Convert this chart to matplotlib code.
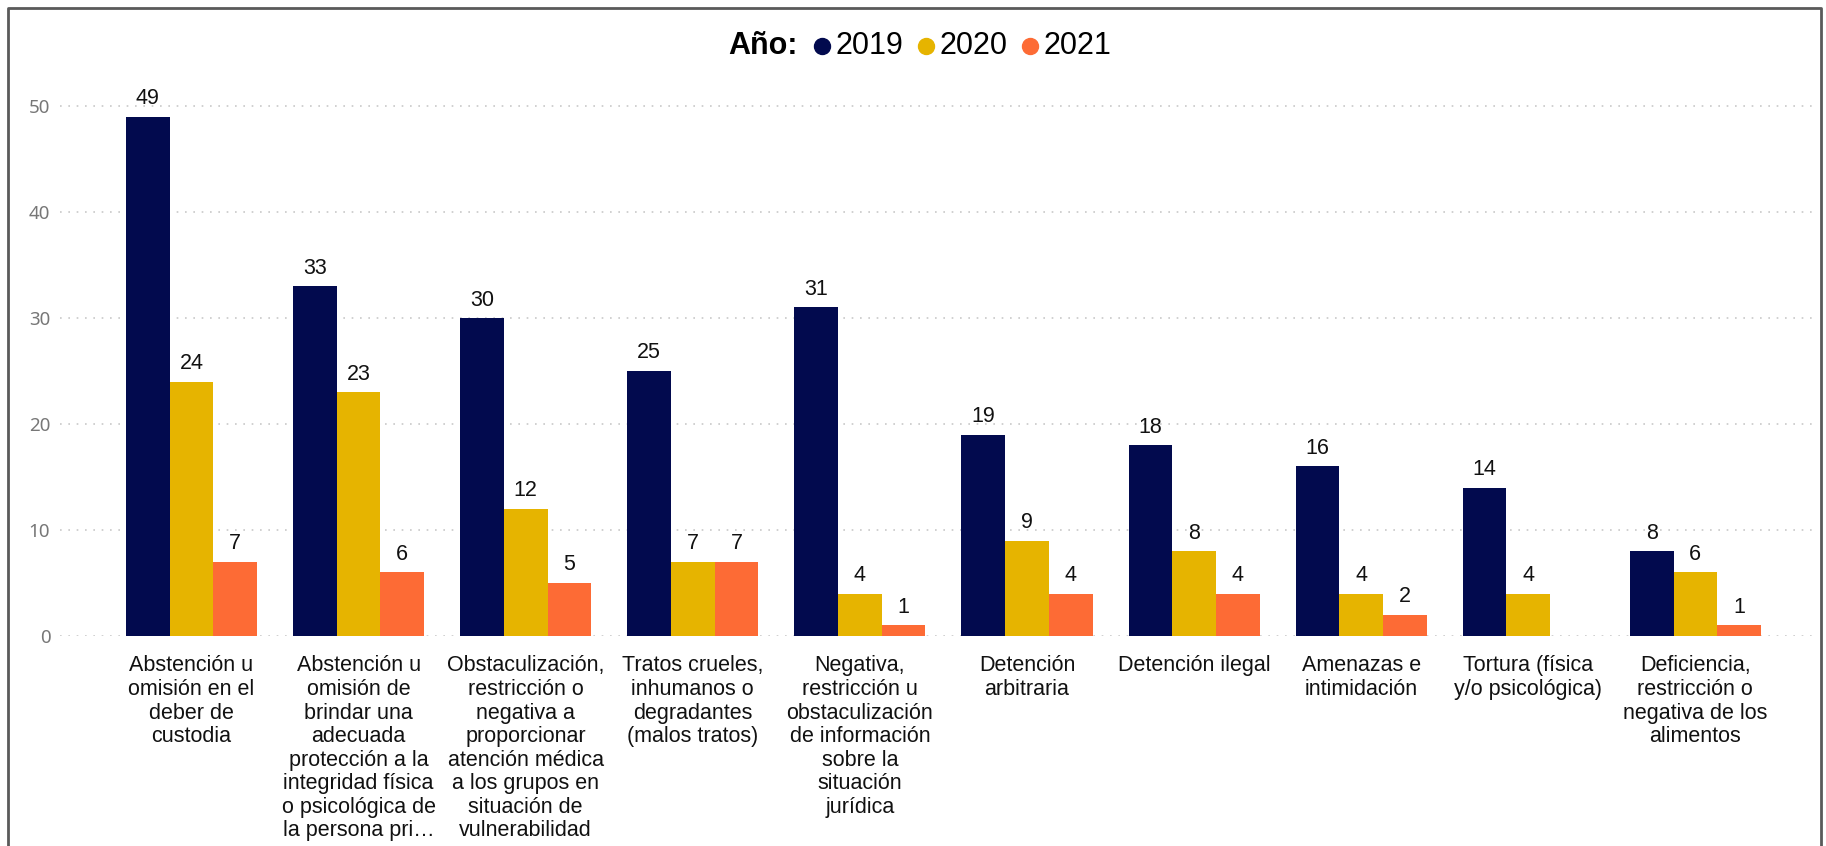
import numpy as np
import matplotlib.pyplot as plt
from matplotlib.lines import Line2D

plt.rcParams['font.family'] = ['Liberation Sans', 'DejaVu Sans']

categorias = [
    "Abstención u\nomisión en el\ndeber de\ncustodia",
    "Abstención u\nomisión de\nbrindar una\nadecuada\nprotección a la\nintegridad física\no psicológica de\nla persona pri…",
    "Obstaculización,\nrestricción o\nnegativa a\nproporcionar\natención médica\na los grupos en\nsituación de\nvulnerabilidad",
    "Tratos crueles,\ninhumanos o\ndegradantes\n(malos tratos)",
    "Negativa,\nrestricción u\nobstaculización\nde información\nsobre la\nsituación\njurídica",
    "Detención\narbitraria",
    "Detención ilegal",
    "Amenazas e\nintimidación",
    "Tortura (física\ny/o psicológica)",
    "Deficiencia,\nrestricción o\nnegativa de los\nalimentos",
]
anios = ["2019", "2020", "2021"]
v2019 = [49, 33, 30, 25, 31, 19, 18, 16, 14, 8]
v2020 = [24, 23, 12, 7, 4, 9, 8, 4, 4, 6]
v2021 = [7, 6, 5, 7, 1, 4, 4, 2, np.nan, 1]
colores = ["#020A4E", "#E6B400", "#FD6B35"]

W, H = 1826, 846
fig = plt.figure(figsize=(W / 100, H / 100), dpi=100)

# area del grafico en pixeles
x0, x1 = 60, 1812
y_base, y_top = 636, 80
ax = fig.add_axes([x0 / W, (H - y_base) / H, (x1 - x0) / W, (y_base - y_top) / H])

x = np.arange(len(categorias))
w = 0.2615
for i, (vals, col) in enumerate(zip([v2019, v2020, v2021], colores)):
    vals = np.array(vals, dtype=float)
    pos = x + (i - 1) * w
    ax.bar(pos, np.nan_to_num(vals), width=w, color=col, zorder=3)
    for p, v in zip(pos, vals):
        if np.isnan(v):
            continue
        ax.annotate(f"{int(v)}", (p, v), xytext=(0, 9), textcoords="offset points",
                    ha="center", va="baseline", fontsize=15.5, color="#111111")

ax.set_xlim(-0.787, 9.698)
ax.set_ylim(0, (y_base - y_top) / 10.6)
ax.set_yticks([0, 10, 20, 30, 40, 50])
ax.yaxis.grid(True, color="#c8c8c8", linestyle=(0, (1, 4)), linewidth=1.2, zorder=0)
ax.set_xticks(x)
ax.set_xticklabels(categorias, fontsize=15.5, linespacing=1.16, va="top")
ax.tick_params(axis="x", length=0, pad=14, colors="#111111")
ax.tick_params(axis="y", length=0, pad=7, labelsize=13.5, labelcolor="#777777")
for lab in ax.get_yticklabels():
    lab.set_family(["Noto Sans", "DejaVu Sans"])
for s in ax.spines.values():
    s.set_visible(False)

# leyenda en una sola linea: "Año:" + marcadores
fig.canvas.draw()
r = fig.canvas.get_renderer()
ly = 1 - 46 / H
cx = 728
t = fig.text(cx / W, ly, "Año:", fontsize=22, fontweight="bold", va="center", ha="left")
cx += t.get_window_extent(r).width + 17
for anio, col in zip(anios, colores):
    fig.add_artist(Line2D([(cx + 8) / W], [ly], marker="o", markersize=11.5,
                          color=col, linestyle="none", transform=fig.transFigure))
    cx += 21
    t = fig.text(cx / W, ly, anio, fontsize=22, va="center", ha="left")
    cx += t.get_window_extent(r).width + 15

# marco
bc = "#5a5a5a"
fig.add_artist(Line2D([8 / W, 8 / W, 1821 / W, 1821 / W], [0, 1 - 8 / H, 1 - 8 / H, 0],
                      color=bc, linewidth=2, transform=fig.transFigure))

fig.savefig("out.png", dpi=100)
